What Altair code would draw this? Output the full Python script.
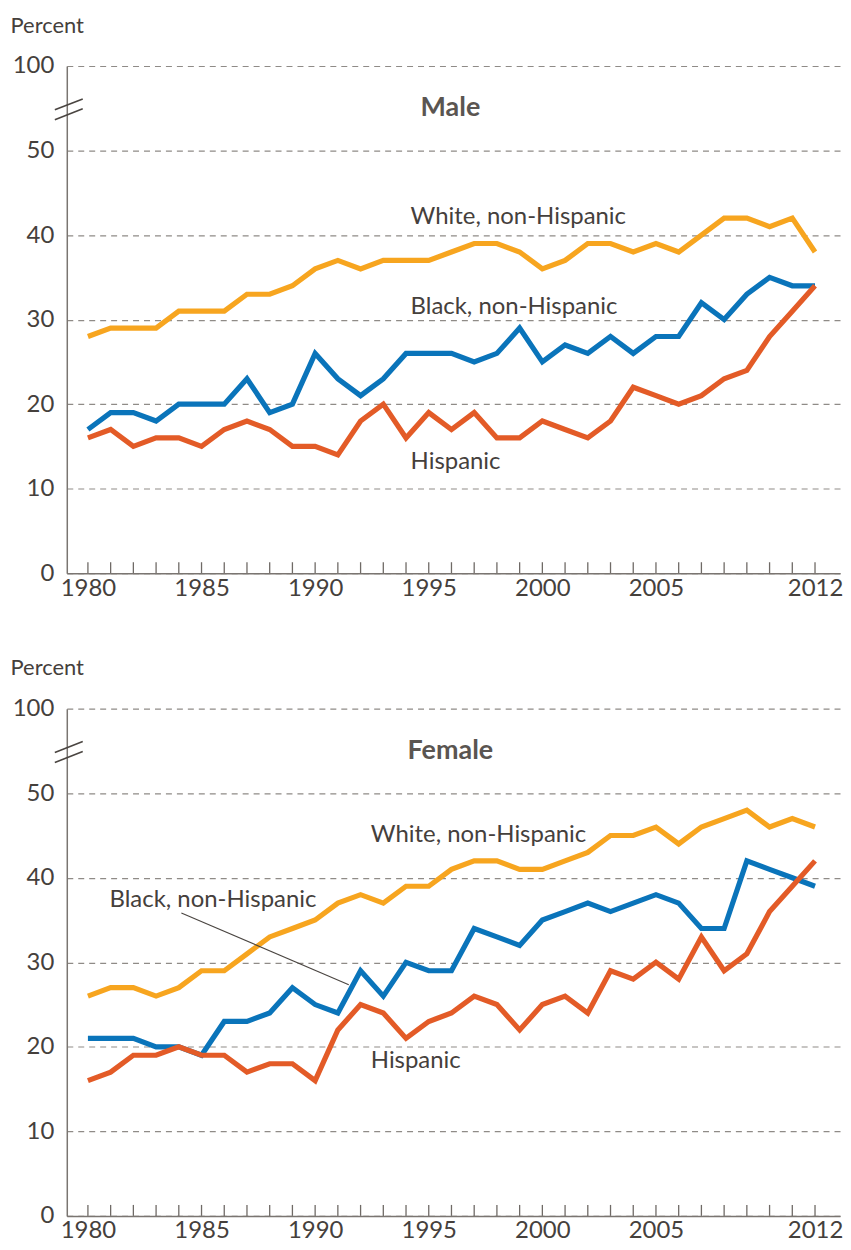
import altair as alt
import pandas as pd

years = list(range(1980, 2013))
label_years = [1980, 1985, 1990, 1995, 2000, 2005, 2012]
y_ticks = [0, 10, 20, 30, 40, 50, 60]

series_names = ["White, non-Hispanic", "Black, non-Hispanic", "Hispanic"]
series_colors = ["#F7A51F", "#0A74BA", "#E35B27"]

male_white = [28, 29, 29, 29, 31, 31, 31, 33, 33, 34,
              36, 37, 36, 37, 37, 37, 38, 39, 39, 38,
              36, 37, 39, 39, 38, 39, 38, 40, 42, 42,
              41, 42, 38]
male_black = [17, 19, 19, 18, 20, 20, 20, 23, 19, 20,
              26, 23, 21, 23, 26, 26, 26, 25, 26, 29,
              25, 27, 26, 28, 26, 28, 28, 32, 30, 33,
              35, 34, 34]
male_hisp = [16, 17, 15, 16, 16, 15, 17, 18, 17, 15,
             15, 14, 18, 20, 16, 19, 17, 19, 16, 16,
             18, 17, 16, 18, 22, 21, 20, 21, 23, 24,
             28, 31, 34]

female_white = [26, 27, 27, 26, 27, 29, 29, 31, 33, 34,
                35, 37, 38, 37, 39, 39, 41, 42, 42, 41,
                41, 42, 43, 45, 45, 46, 44, 46, 47, 48,
                46, 47, 46]
female_black = [21, 21, 21, 20, 20, 19, 23, 23, 24, 27,
                25, 24, 29, 26, 30, 29, 29, 34, 33, 32,
                35, 36, 37, 36, 37, 38, 37, 34, 34, 42,
                41, 40, 39]
female_hisp = [16, 17, 19, 19, 20, 19, 19, 17, 18, 18,
               16, 22, 25, 24, 21, 23, 24, 26, 25, 22,
               25, 26, 24, 29, 28, 30, 28, 33, 29, 31,
               36, 39, 42]

# label anchors (year, value) for series names
male_label_pos = [(1994.2, 42.1), (1994.2, 31.5), (1994.2, 13.2)]
female_label_pos = [(1992.45, 45.1), (1980.95, 37.4), (1992.45, 18.35)]

W = 776
H = 509
TEXT = "#45403c"
FONT = "Lato"

x_scale = alt.Scale(domain=[1979.07, 2013.1], nice=False, zero=False)
y_scale = alt.Scale(domain=[0, 60], nice=False)

x_axis = alt.Axis(values=label_years, format="d", ticks=False, grid=False,
                  domainColor="#7a7571", domainWidth=1.5, labelFontSize=24,
                  labelColor=TEXT, labelFont=FONT, labelPadding=3, title=None,
                  labelFlush=False, zindex=1)
y_axis = alt.Axis(values=y_ticks, labelExpr="datum.value == 60 ? '100' : datum.label",
                  ticks=False, grid=True, gridDash=[6, 5], gridColor="#8f8b87",
                  gridWidth=1.2, domainColor="#7a7571", domainWidth=1.5,
                  labelFontSize=24, labelColor=TEXT, labelFont=FONT, labelPadding=13,
                  title="Percent", titleAngle=0, titleX=-57, titleY=-41,
                  titleAlign="left", titleBaseline="middle", titleFontSize=22,
                  titleFontWeight="normal", titleColor=TEXT, titleFont=FONT)


def panel(title, white, black, hisp, label_pos, leader=False):
    x_enc = alt.X("year:Q", scale=x_scale, axis=x_axis)
    y_enc = alt.Y("value:Q", scale=y_scale, axis=y_axis)
    layers = []
    for name, color, vals in zip(series_names, series_colors, [white, black, hisp]):
        df = pd.DataFrame({"year": years, "value": vals})
        layers.append(alt.Chart(df).mark_line(strokeWidth=5.2, color=color,
                                              strokeJoin="miter").encode(x=x_enc, y=y_enc))
    ticks = alt.Chart(pd.DataFrame({"year": years})).mark_rule(
        color="#6f6a66", strokeWidth=1.3).encode(
        x=x_enc, y=alt.value(H), y2=alt.value(H - 11))
    lab_df = pd.DataFrame({"year": [p[0] for p in label_pos],
                           "value": [p[1] for p in label_pos],
                           "text": series_names})
    labels = alt.Chart(lab_df).mark_text(align="left", baseline="middle", fontSize=24,
                                         font=FONT, color=TEXT).encode(
        x=x_enc, y=y_enc, text="text:N")
    ttl = alt.Chart(pd.DataFrame({"t": [title]})).mark_text(
        fontSize=27, fontWeight="bold", font=FONT, color="#5a5551",
        align="center", baseline="middle").encode(
        text="t:N", x=alt.value(385), y=alt.value(42))
    brk1 = alt.Chart(pd.DataFrame({"k": [0]})).mark_rule(color="#4a4541", strokeWidth=1.6).encode(
        x=alt.value(-12), x2=alt.value(16), y=alt.value(44), y2=alt.value(33))
    brk2 = alt.Chart(pd.DataFrame({"k": [0]})).mark_rule(color="#4a4541", strokeWidth=1.6).encode(
        x=alt.value(-12), x2=alt.value(16), y=alt.value(54), y2=alt.value(43))
    parts = [ticks] + layers + [labels, ttl, brk1, brk2]
    if leader:
        ld = alt.Chart(pd.DataFrame({"k": [0]})).mark_rule(color="#4a4541", strokeWidth=1.1).encode(
            x=alt.value(115), x2=alt.value(283), y=alt.value(205), y2=alt.value(277))
        parts.append(ld)
    return alt.layer(*parts).properties(width=W, height=H)


top = panel("Male", male_white, male_black, male_hisp, male_label_pos)
bottom = panel("Female", female_white, female_black, female_hisp, female_label_pos, leader=True)

chart = alt.vconcat(top, bottom, spacing=136, bounds="flush").properties(
    padding={"left": 2, "top": 4, "right": 0, "bottom": 0}
).configure_view(stroke=None)

chart.save("out.html", embed_options={"renderer": "svg", "actions": False})
